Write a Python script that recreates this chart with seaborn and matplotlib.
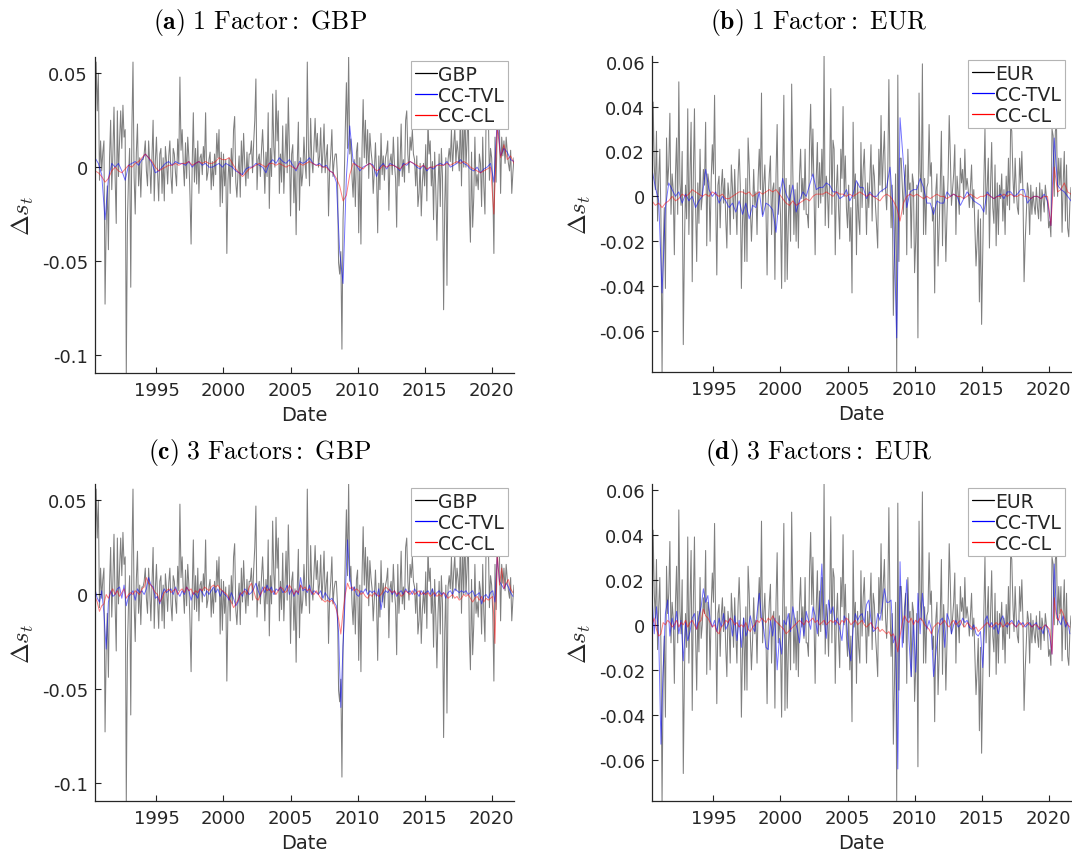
import numpy as np
import matplotlib
matplotlib.use("Agg")
import matplotlib.pyplot as plt
from matplotlib.lines import Line2D
import seaborn as sns

# ---------------- data (values in units of 0.001) ----------------
# monthly, Jun 1990 .. Sep 2021
gbp = [
    20, 56, 30, 50, -7, 14, -2,
    8, 14, -73, -30, -10, -44, 5, 25, -12, 7, 32, -5,
    -30, 30, -5, 14, 30, 10, 33, 16, 20, -110, -30, -5,
    10, -64, 20, 56, -5, -25, 8, 23, -10, 5, -16, 4,
    4, 7, 14, -2, -10, 14, 2, -14, 6, 25, -18, 3,
    16, -3, -18, 7, 10, -14, 5, -18, 11, 3, -9, 6,
    14, -5, -14, 10, 7, -3, -10, 15, 2, 48, 9, 20,
    2, -10, 13, -6, 16, 5, -15, -41, 2, 29, -8, 10,
    -9, 14, -14, 5, 7, -4, 11, 2, 29, -7, -3, 4,
    8, -12, 3, -10, 7, -4, 18, 5, 20, -21, 8, -19,
    7, -10, 4, -46, -7, 5, -14, 10, -5, 20, 27, -8,
    -16, -3, 6, -16, 14, -4, 18, 2, -10, 8, -6, 7,
    7, 14, -3, 13, 25, 47, -12, 4, 7, -5, 9, 20,
    5, -14, 8, -5, 29, -22, 10, -5, 39, 11, 0, 41,
    14, 30, -14, 7, -8, 22, -14, 5, 23, -3, 37, 10,
    -26, 7, 12, -19, 3, -36, 2, 24, -23, 5, -10, -3,
    16, 2, -6, 56, 10, -10, 26, 4, -3, 12, 26, 8,
    18, 0, 6, 21, -3, 8, 23, -3, 6, 12, -26, -2,
    7, 20, -5, 3, 7, 7, -5, -51, -57, -45, -97, -28,
    -8, 20, 45, 10, 59, 7, 15, -5, -16, 4, -21, 8,
    13, -35, 5, -41, 10, 36, 5, 25, 2, 20, -6, 18,
    9, 3, -14, -2, 13, -4, -35, 6, -12, 18, -4, 6,
    -7, 5, 8, 14, -23, 3, 7, -4, 16, 2, -6, -32,
    16, -10, 2, 23, -5, 4, -8, 25, 30, 7, -3, 16,
    9, 20, 7, 4, -10, 6, -21, -14, 2, -26, -8, 2,
    -10, 12, -18, 25, 7, 14, -10, 3, -28, 8, -12, -39,
    -10, 7, -21, 10, -5, -76, -20, 5, -63, 4, 10, 3,
    20, -2, 12, 21, 2, 14, 8, -2, 30, -10, 25, 0,
    34, 0, 14, 34, -20, -40, 8, -32, -16, 16, -10, -4,
    -12, 7, 2, -21, 16, -10, -25, 25, 21, 30, -7, 10,
    5, -10, -46, 16, -8, 22, 30, 20, -14, 16, 6, 14,
    2, 16, 8, 2, -2, 9, -14, -3, 5,
]
eur = [
    -5, 42, 14, 3, 29, -11, 8,
    21, -10, -79, -23, -5, -41, 26, 5, 14, 37, -8, 10,
    3, -26, 10, 26, -8, 51, 6, -4, 20, -66, -23, 5,
    -10, 39, -17, 10, 33, -38, 10, 39, -5, -29, 6, -12,
    21, -6, 0, 12, 5, 33, -22, 10, 6, -20, 8, 23,
    10, 45, -1, -35, 5, 9, -14, 4, 12, -3, 8, -10,
    -23, 6, 0, -17, 14, 4, -10, 12, -4, -17, 8, 21,
    5, -41, -11, 3, -29, 8, -29, 26, 14, -5, -20, -7,
    12, -4, 2, -17, 8, 21, 3, 46, -8, 5, 14, -6,
    -35, -1, 10, 18, -17, 3, 6, -37, 10, 32, -8, 4,
    -8, -41, 10, 45, -38, 8, -37, -11, 5, -20, 50, 12,
    -17, 3, -20, 6, -23, 9, 21, -1, 8, -6, 21, -8,
    -8, -14, 24, 41, 9, 30, 2, -26, 8, 24, -5, 15,
    -3, 21, 0, 63, -13, 9, 3, -14, 10, 48, -8, 25,
    21, -26, 3, 14, -6, -19, 21, 8, 40, 0, 18, -5,
    -14, 5, -20, -5, -43, 33, -1, 10, -26, 6, -10, -17,
    24, -5, 12, 21, 2, -17, 6, -5, 8, 23, -11, 14,
    9, -4, -13, -23, 21, 5, 36, 2, 18, 29, 3, -6,
    10, 52, 9, -14, 5, -53, -26, 10, -78, 54, -29, 17,
    17, 5, -8, 8, 14, -26, 21, 3, 6, -23, 10, 6,
    -34, -20, 5, -63, 46, 11, 2, 59, -17, 8, -17, 4,
    6, 32, 9, 15, -11, -5, -43, 2, 10, -31, -14, 5,
    29, -22, 9, -3, -29, -8, 8, 36, 18, -4, 3, 10,
    23, -17, 9, 2, -8, 17, 6, 12, -1, 21, 3, 8,
    3, -5, 4, 14, -5, 3, -14, -31, -20, -6, -47, -10,
    -57, -26, 6, 30, -8, 4, 17, -23, 5, 24, -5, -12,
    14, -22, 6, -17, 5, -1, 10, -11, 3, -17, 9, -4,
    17, -6, 32, 29, 9, -3, 17, 3, -5, -8, 17, 6,
    20, 2, -38, -20, -8, 6, 2, -17, 5, -8, 2, -4,
    -8, 4, -5, -10, 6, -11, 3, -1, -7, 5, 0, -3,
    -14, -11, -18, 30, 27, 0, 29, 32, 0, 17, 5, 17,
    -16, 6, 20, -11, 14, -14, -18, -3, 4,
]

# quarterly, Jun 1990 .. Sep 2021 (1 factor models)
tvl_1f_gbp = [
    5, 2, -4,
    -28, -6, 2, 0,  2, -2, -7, 1,  2, 3, 1, 4,  7, 5, 2, -3,
    -2, 0, 2, 3,  1, 3, 2, 2,  1, 3, 0, 2,  3, 1, 2, 0,
    0, 1, 2, 0,  2, 1, 0, -2,  -3, -4, -1, 0,  0, 2, 1, 0,
    -3, 2, 4, 2,  5, 3, 2, 4,  1, -2, 3, 2,  3, 5, 2, 1,
    2, 0, 1, -2,  -3, -8, -45, -62,  -5, 22, 3, 1,  -2, 0, 1, 2,
    1, -5, 0, 2,  -1, 2, 1, 0,  -2, 2, 1, 3,  2, 0, -1, 1,
    -2, 0, -1, 1,  2, 1, 3, 0,  1, 2, 4, 2,  1, -1, -2, 0,
    -3, -1, 0, 2,  -8, 25, 6, 10,
    8, 4, 3,
]
cl_1f_gbp = [
    -2, -3, -5,
    -8, -6, -2, 0,  -2, -3, -1, 1,  0, 2, 3, 5,  7, 5, 3, 0,
    -2, -1, 0, 1,  1, 2, 1, 2,  2, 3, 1, 2,  3, 2, 3, 2,
    2, 3, 5, 4,  4, 5, 2, -1,  -3, -5, -3, -1,  0, 1, 2, 1,
    0, 2, 2, 1,  2, 1, 0, 1,  0, -1, 2, 1,  2, 3, 2, 1,
    1, 0, 0, -2,  -3, -6, -10, -18,  -15, -4, 2, 1,  0, -1, 1, 2,
    0, -2, -1, 1,  0, 1, 1, 0,  -1, 1, 2, 3,  2, 1, 0, 1,
    -1, 0, 0, 1,  1, 1, 2, 1,  2, 3, 2, 3,  2, 0, -1, -2,
    -3, -2, -1, 0,  -25, 22, 5, 12,
    4, 6, 2,
]
tvl_1f_eur = [
    12, 4, -2,
    -43, -5, 6, 3,  0, 2, -3, 1,  -2, 0, -5, -2,  0, 12, 3, 0,
    2, -3, 0, -2,  -5, -3, -7, -2,  -8, -3, -10, -4,  -5, 2, -9, -3,
    -4, -6, -16, 0,  8, 1, -2, 5,  -7, -2, 2, 0,  5, 10, 3, 4,
    4, 6, 5, 2,  2, -1, 0, 3,  -2, 1, 7, 4,  4, -1, 2, 0,
    0, 2, 3, 4,  13, -6, -63, 35,  15, -5, 2, 3,  3, 8, 4, -3,
    -3, -8, -2, -3,  -3, 2, 0, 1,  0, -4, -1, 2,  0, -2, -3, -4,
    -7, 2, 0, -1,  0, 1, -1, 2,  2, 0, 1, 3,  3, -3, -1, 0,
    0, -1, 1, -2,  -13, 26, 5, 3,
    2, 0, -2,
]
cl_1f_eur = [
    -2, -4, -3,
    -5, -3, -2, 0,  -2, -1, 1, 0,  1, 3, 2, 1,  0, 1, 0, 2,
    1, 0, 1, -1,  -1, 0, 1, 2,  2, 1, 2, 0,  1, 2, 1, 2,
    3, 2, 3, 1,  -1, -3, -4, -2,  -4, -3, -2, -1,  -2, 0, 1, 1,
    1, 2, 1, 0,  2, 1, 1, 0,  1, 0, 1, 2,  1, 0, 1, 0,
    -1, -2, 0, 1,  0, -2, -5, -11,  -3, 0, 1, 0,  1, 0, -1, 0,
    -1, 0, 1, 0,  0, -1, 0, 1,  0, 0, -1, 0,  1, 0, -1, 0,
    0, 1, 0, -1,  0, 0, 1, 0,  1, 0, 0, 1,  0, 0, -1, 0,
    0, -1, 0, 0,  -13, 13, 2, 3,
    6, 2, 1,
]

# bi-monthly, Jun 1990 .. Aug 2021 (3 factor models)
tvl_3f_gbp = [
    3, -2, -4, 2,
    -10, -29, -4, 2, -1, 0,   3, 4, -2, 5, -6, -1,   0, 2, -3, 3, 1, 2,
    0, 3, 9, 5, 4, -2,   -1, -5, 0, 3, 1, 2,   3, 0, 4, 1, -1, 2,
    0, 4, 2, -3, 1, 0,   -2, 3, 1, -1, 2, 0,   2, 4, 1, 3, -1, 2,
    0, -1, -3, 1, -2, -6,   -4, 1, -1, 3, 2, 0,   1, 3, 6, 2, -1, 4,
    1, 5, 2, 4, 0, 3,   2, 4, 1, 2, 5, 0,   3, -1, 2, 0, 9, 2,
    3, 1, 5, 0, 2, 1,   0, 2, -2, 1, -1, -3,   -2, -4, -6, -20, -60, -27,
    0, 29, 9, 2, 4, 0,   -1, 2, 1, 3, 0, 2,   1, 2, -1, 3, -8, 0,
    2, 1, 3, 0, 2, -1,   1, 2, 0, 3, 1, 2,   0, 3, 1, -1, 2, 0,
    1, 2, 0, 3, -1, 1,   2, 0, 1, -2, 1, 2,   0, 3, 2, 1, 2, 1,
    2, 0, 1, 2, -1, 0,   1, -5, -1, 0, -2, 1,   2, -4, 20, 7, 5, 3,
    6, 4, 1, -1,
]
cl_3f_gbp = [
    -1, -4, -9, -6,
    -5, 0, -2, 1, 3, 0,   2, -1, 1, 3, -2, 0,   1, 0, 2, 1, 0, 3,
    4, 9, 6, 5, 3, 1,   0, -4, -2, 1, 2, 3,   1, 2, 3, 0, 2, 3,
    1, 4, 2, 3, 0, 2,   1, 3, 2, 4, 3, 2,   4, 5, 4, 5, 3, 2,
    1, 0, -2, -4, -7, -5,   -3, 0, 1, 2, 0, 4,   6, 2, -2, -3, 0, 2,
    4, 2, 3, 1, 2, 0,   2, 4, 3, 1, 2, 5,   3, 0, 2, 1, 5, 3,
    4, 2, 3, 1, 0, 2,   0, -2, -3, -4, -3, -4,   -3, -5, -8, -13, -21, -9,
    0, 6, 3, 4, 2, 3,   2, 0, 1, -1, -2, 0,   -1, 1, 0, -1, 0, 2,
    4, 3, 2, 1, 2, 0,   1, -1, 0, 2, 1, 0,   2, 0, 1, 2, 0, 1,
    0, 1, -1, 0, 1, -1,   0, -1, 1, 0, -2, -1,   0, -2, -1, -3, -2, 0,
    -1, 0, -2, -4, -2, -1,   -3, -1, -4, -2, -3, -2,   -1, -26, 23, 5, 14, 3,
    6, 8, 3, 1,
]
tvl_3f_eur = [
    13, -4, 8, -5,
    -53, -19, 5, 11, -5, 3,   -2, 6, -4, 2, -16, 1,   -7, -3, 3, 5, -2, 4,
    8, 16, 10, 13, 2, -1,   2, -3, 3, -1, 5, -2,   0, 3, -5, 4, -7, 2,
    -10, 3, -5, -2, 4, -1,   -3, 5, 14, 3, -2, -10,   -11, 2, -5, 3, -20, -6,
    -13, 2, 0, 5, -3, 8,   2, -2, -8, 3, -5, 6,   2, -2, 8, 4, -4, 8,
    27, 3, -6, 11, 5, 8,   0, 3, -2, -7, 4, 2,   -10, -16, -2, 5, 2, 4,
    5, 1, 9, 11, 2, -3,   -2, 5, 2, 8, 16, 10,   10, 11, -8, -5, -64, 28,
    -10, 3, 20, -7, -23, 2,   -21, 14, -4, 14, 3, -2,   2, -2, -23, -13, -4, 2,
    3, -10, 5, 2, -4, 0,   2, -1, 0, 3, 1, 2,   -1, -2, 0, -4, -5, -3,
    -19, 2, 4, -1, 1, -2,   0, -4, 2, 4, 0, -1,   1, 2, 0, -1, 2, 0,
    1, -1, 0, 1, -1, 0,   1, -2, -1, -4, 0, -1,   -5, -13, 27, 5, 2, 0,
    4, -1, 1, -4,
]
cl_3f_eur = [
    0, 3, -2, -5,
    -4, 1, 0, 2, 1, -1,   0, 2, -1, 1, 0, 2,   -1, 1, 2, 0, -2, 1,
    2, 7, 4, 3, 1, -1,   0, -3, -4, -1, 0, 2,   1, 3, 2, 0, 1, -1,
    0, -1, 1, -2, -3, -1,   0, 2, 1, 3, 2, 1,   3, 2, 4, 2, 1, 0,
    -1, -2, -4, -3, -2, -1,   0, 1, 2, 1, 0, 2,   1, 2, 3, 1, 2, 0,
    1, 2, 0, 1, 2, 1,   2, 1, 0, 2, 1, 3,   2, 0, 1, 2, 0, 1,
    2, 0, -1, 0, 1, -1,   -2, -1, -3, -2, -3, -4,   -3, -5, -4, -7, -12, -5,
    1, 4, 2, 1, 3, 0,   2, 1, 3, 2, 0, -1,   -2, -4, -1, 0, 1, 0,
    1, 2, 0, -1, 1, 2,   0, 1, 2, 0, -1, 1,   0, -1, -2, -1, -3, -2,
    -1, 0, 1, 0, -1, 0,   1, 0, 1, -1, 0, 1,   0, 1, 0, -1, 0, 1,
    -1, 0, 1, 0, -1, 0,   0, -1, -2, -1, 0, -1,   -2, -13, 12, 3, 2, 7,
    5, 2, 0, -1,
]

titles = ["(a)", "(b)", "(c)", "(d)"]
subtitles = ["1 Factor: GBP", "1 Factor: EUR", "3 Factors: GBP", "3 Factors: EUR"]
year_ticks = [1995, 2000, 2005, 2010, 2015, 2020]
gbp_yticks = [-0.1, -0.05, 0, 0.05]
gbp_ylabels = ["-0.1", "-0.05", "0", "0.05"]
eur_yticks = [-0.06, -0.04, -0.02, 0, 0.02, 0.04, 0.06]
eur_ylabels = ["-0.06", "-0.04", "-0.02", "0", "0.02", "0.04", "0.06"]

# ---------------- style ----------------
sns.set_style("ticks")
plt.rcParams['font.family'] = ['DejaVu Sans']
plt.rcParams['mathtext.fontset'] = 'cm'

W, H = 1072, 854
fig = plt.figure(figsize=(W / 100, H / 100), dpi=100)

def box(l, r, t, b):
    return [l / W, 1 - b / H, (r - l) / W, (b - t) / H]

pos = [box(95, 514, 58, 374), box(652, 1071, 57, 373),
       box(95, 514, 485, 802), box(652, 1071, 485, 802)]
title_xy = [(260, 23), (819, 23), (260, 453), (819, 453)]

def years(n, step):
    return 1990 + 5 / 12 + step * np.arange(n) / 12

panels = [
    (gbp, "GBP", tvl_1f_gbp, cl_1f_gbp, 3),
    (eur, "EUR", tvl_1f_eur, cl_1f_eur, 3),
    (gbp, "GBP", tvl_3f_gbp, cl_3f_gbp, 2),
    (eur, "EUR", tvl_3f_eur, cl_3f_eur, 2),
]

dark = '#262626'
for i, (spot, name, tvl, cl, step) in enumerate(panels):
    ax = fig.add_axes(pos[i])
    s = np.array(spot) / 1000
    xs = years(len(s), 1)
    sns.lineplot(x=xs, y=s, ax=ax, color='black', lw=0.75, alpha=0.5)
    t = np.array(tvl) / 1000
    sns.lineplot(x=years(len(t), step), y=t, ax=ax, color=(0, 0, 1), lw=0.7, alpha=0.55)
    c = np.array(cl) / 1000
    sns.lineplot(x=years(len(c), step), y=c, ax=ax, color=(1, 0, 0), lw=0.7, alpha=0.5)

    ax.set_xlim(xs[0], xs[-1])
    if name == "GBP":
        ax.set_ylim(-0.1097, 0.0587)
        ax.set_yticks(gbp_yticks)
        ax.set_yticklabels(gbp_ylabels)
    else:
        ax.set_ylim(-0.0782, 0.0625)
        ax.set_yticks(eur_yticks)
        ax.set_yticklabels(eur_ylabels)
    ax.set_xticks(year_ticks)
    ax.set_xticklabels([str(y) for y in year_ticks])
    sns.despine(ax=ax)
    for sp in ['left', 'bottom']:
        ax.spines[sp].set_color(dark)
        ax.spines[sp].set_linewidth(0.9)
    ax.tick_params(direction='in', length=4, width=0.8, colors=dark,
                   labelsize=13, labelcolor=dark)
    ax.tick_params(axis='y', pad=5)
    ax.tick_params(axis='x', pad=6)
    ax.set_xlabel("Date", fontsize=14, color=dark)
    ax.xaxis.set_label_coords(0.5, -0.1)
    ax.set_ylabel(r'$\Delta s_t$', fontsize=18, color=dark)
    ax.yaxis.set_label_coords(-0.14, 0.5)

    handles = [Line2D([], [], color='black', lw=0.9),
               Line2D([], [], color=(0, 0, 1), lw=0.9),
               Line2D([], [], color=(1, 0, 0), lw=0.9)]
    leg = ax.legend(handles, [name, "CC-TVL", "CC-CL"], loc='upper right',
                    bbox_to_anchor=(1 - 6 / 419, 1 - 4 / 316), borderaxespad=0,
                    fontsize=13.5, handlelength=1.2, handletextpad=0.05,
                    labelspacing=0.1, borderpad=0.2, fancybox=False,
                    framealpha=1, edgecolor='#b4b4b4')
    leg.get_frame().set_linewidth(0.8)

    tx, ty = title_xy[i]
    fig.text(tx / W, 1 - ty / H,
             r'$\mathbf{' + titles[i] + r'}\ \mathrm{' + subtitles[i].replace(' ', r'\ ').replace(':', '{:}') + '}$',
             ha='center', va='center', fontsize=18.5, color='black')

fig.savefig("out.png", dpi=100)
